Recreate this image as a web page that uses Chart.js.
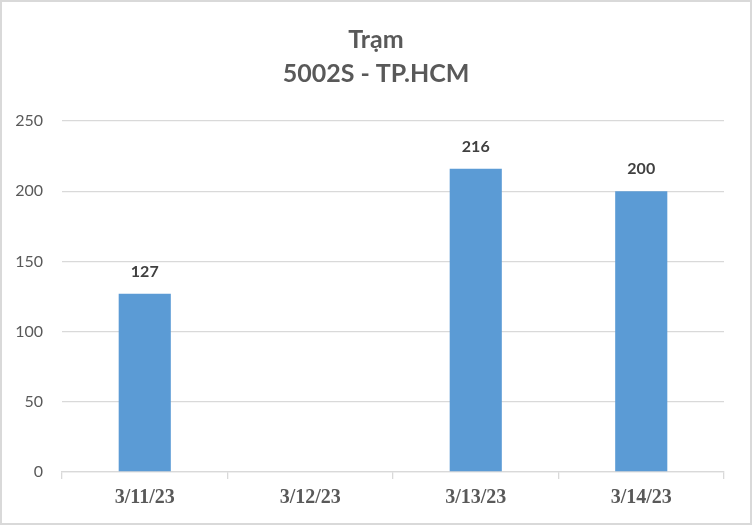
<!DOCTYPE html>
<html>
<head>
<meta charset="utf-8">
<script src="https://cdn.jsdelivr.net/npm/chart.js@4"></script>
<style>
  html, body { margin: 0; padding: 0; background: #fff; }
  #wrap { position: relative; width: 752px; height: 525px; }
  #c { display: block; }
</style>
</head>
<body>
<div id="wrap"><canvas id="c" width="752" height="525"></canvas></div>
<script>
const tieuDe = ["Trạm", "5002S - TP.HCM"];
const ngay = ["3/11/23", "3/12/23", "3/13/23", "3/14/23"];
const giaTri = [127, null, 216, 200];
const mocTrucY = [0, 50, 100, 150, 200, 250];

// khung xam quanh bieu do
const khungNen = {
    id: "khungNen",
    beforeDraw(chart) {
        const ctx = chart.ctx;
        ctx.save();
        ctx.fillStyle = "#ffffff";
        ctx.fillRect(0, 0, chart.width, chart.height);
        ctx.strokeStyle = "#d9d9d9";
        ctx.lineWidth = 2;
        ctx.strokeRect(1, 1, chart.width - 2, chart.height - 2);
        ctx.restore();
    }
};

// nhan so lieu tren cot
const nhanCot = {
    id: "nhanCot",
    afterDatasetsDraw(chart) {
        const ctx = chart.ctx;
        const meta = chart.getDatasetMeta(0);
        ctx.save();
        ctx.font = "bold 16px Lato";
        ctx.fillStyle = "#404040";
        ctx.textAlign = "center";
        ctx.textBaseline = "middle";
        meta.data.forEach((bar, i) => {
            const v = giaTri[i];
            if (v === null || v === undefined) return;
            ctx.fillText(String(v), bar.x, bar.y - 22);
        });
        ctx.restore();
    }
};

new Chart(document.getElementById("c").getContext("2d"), {
    type: "bar",
    data: {
        labels: ngay,
        datasets: [{
            data: giaTri,
            backgroundColor: "#5b9bd5",
            borderWidth: 0,
            barPercentage: 0.315,
            categoryPercentage: 1
        }]
    },
    options: {
        responsive: false,
        animation: false,
        layout: { padding: 0 },
        plugins: {
            legend: { display: false },
            tooltip: { enabled: false },
            title: {
                display: true,
                text: tieuDe,
                color: "#595959",
                font: { family: "Lato", size: 25, weight: "bold", lineHeight: 1.36 },
                padding: { top: 23, bottom: 30 }
            }
        },
        scales: {
            x: {
                grid: {
                    drawOnChartArea: false,
                    drawTicks: true,
                    tickLength: 7,
                    color: "#d9d9d9",
                    lineWidth: 1.3
                },
                border: { display: true, color: "#d9d9d9", width: 1.3 },
                ticks: {
                    color: "#595959",
                    padding: 7,
                    font: { family: "Liberation Serif", size: 20, weight: "bold" }
                },
                afterFit(scale) { scale.height = 53; }
            },
            y: {
                min: 0,
                max: 250,
                afterBuildTicks(scale) { scale.ticks = mocTrucY.map(v => ({ value: v })); },
                grid: { color: "#d9d9d9", lineWidth: 1.3, drawTicks: false },
                border: { display: false },
                ticks: {
                    color: "#595959",
                    padding: 19,
                    font: { family: "Lato", size: 16 }
                },
                afterFit(scale) { scale.width = 62; }
            },
            // truc trong ben phai chi de giu khoang le
            yPhai: {
                type: "linear",
                position: "right",
                min: 0,
                max: 250,
                grid: { display: false, drawTicks: false },
                border: { display: false },
                ticks: { display: false },
                afterFit(scale) { scale.width = 28; }
            }
        }
    },
    plugins: [khungNen, nhanCot]
});
</script>
</body>
</html>
